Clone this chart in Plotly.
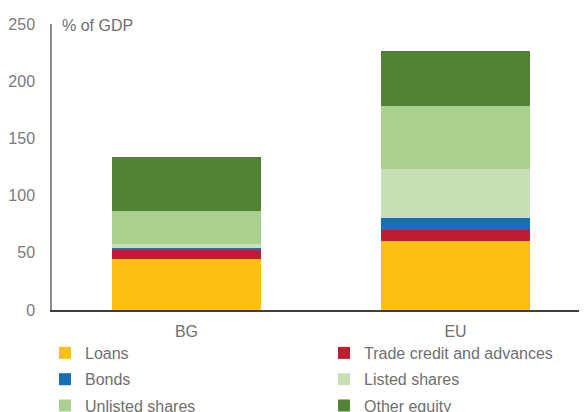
import plotly.graph_objects as go

categories = ["BG", "EU"]
series_names = ["Loans", "Trade credit and advances", "Bonds", "Listed shares", "Unlisted shares", "Other equity"]
loans = [44.5, 60.5]
trade_credit = [8.3, 9.0]
bonds = [1.6, 10.5]
listed_shares = [3.2, 43.0]
unlisted_shares = [29.0, 55.3]
other_equity = [47.0, 47.7]
y_ticks = [0, 50, 100, 150, 200, 250]

values = [loans, trade_credit, bonds, listed_shares, unlisted_shares, other_equity]
colors = ["#FDBF12", "#BE1E2D", "#1570B8", "#C6E0B4", "#A9D08E", "#548235"]
legends = ["legend", "legend2", "legend", "legend2", "legend", "legend2"]

fig = go.Figure()
for i, (name, vals, col, lg) in enumerate(zip(series_names, values, colors, legends)):
    fig.add_trace(go.Bar(x=categories, y=vals, name=name, marker=dict(color=col, line=dict(width=0)),
                         legend=lg, legendgroup=f"g{i}"))

font_family = "Liberation Sans, Arial, sans-serif"
leg_common = dict(orientation="v", xref="paper", yref="paper", xanchor="left", yanchor="top",
                  font=dict(family=font_family, size=16, color="#6f6f6f"),
                  bgcolor="rgba(0,0,0,0)", traceorder="grouped", tracegroupgap=2.5, itemwidth=30)

plot_w = 538
fig.update_layout(
    width=582, height=404,
    margin=dict(l=44, r=0, t=16, b=102, autoexpand=False),
    barmode="stack",
    bargap=0.445,
    plot_bgcolor="white", paper_bgcolor="white",
    font=dict(family=font_family, size=16, color="#7a7a7a"),
    xaxis=dict(showline=True, linecolor="#404040", linewidth=1.5, ticks="", showgrid=False,
               tickfont=dict(size=16, color="#6f6f6f"), ticklabelstandoff=6),
    yaxis=dict(range=[0, 250], tickvals=y_ticks, showline=True, linecolor="#8c8c8c", linewidth=1.5,
               showgrid=False, ticks="", zeroline=False, tickfont=dict(size=16, color="#7a7a7a"),
               ticklabelstandoff=12),
    legend=dict(leg_common, x=-7 / plot_w, y=-0.0909),
    legend2=dict(leg_common, x=272 / plot_w, y=-0.0909),
    showlegend=True,
    annotations=[dict(text="% of GDP", xref="paper", yref="paper", x=0.015, y=1.0, xanchor="left",
                      yanchor="bottom", showarrow=False, yshift=-12,
                      font=dict(family=font_family, size=16, color="#6f6f6f"))],
)

fig.write_html("out.html")
